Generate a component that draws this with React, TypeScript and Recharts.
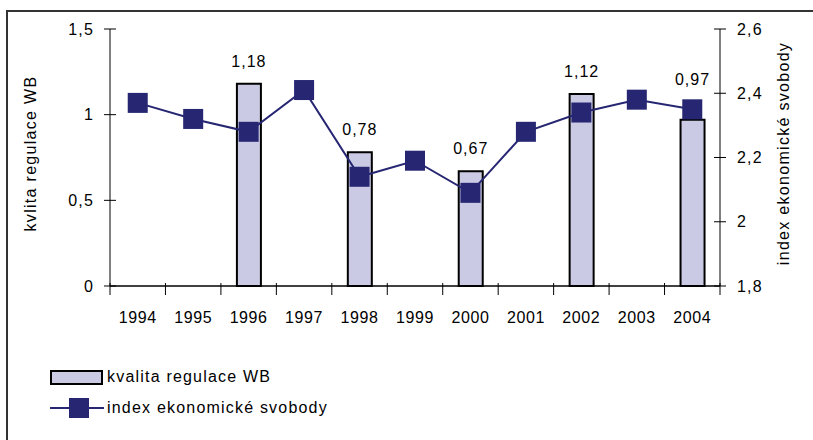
import React from 'react';
import { ComposedChart, Bar, Line, XAxis, YAxis, LabelList } from 'recharts';

const years = ['1994', '1995', '1996', '1997', '1998', '1999', '2000', '2001', '2002', '2003', '2004'];
// kvalita regulace WB (left axis), only some years
const regulace = [null, null, 1.18, null, 0.78, null, 0.67, null, 1.12, null, 0.97];
// index ekonomické svobody (right axis)
const svoboda = [2.37, 2.32, 2.28, 2.41, 2.14, 2.19, 2.09, 2.28, 2.34, 2.38, 2.35];
const leftTicks = [0, 0.5, 1, 1.5];
const rightTicks = [1.8, 2, 2.2, 2.4, 2.6];

const data = years.map((year, i) => ({ year, regulace: regulace[i], svoboda: svoboda[i] }));

const FONT = '"Liberation Sans", Arial, sans-serif';
const NAVY = '#262672';
const BAR_FILL = '#CBCAE4';
const PLOT_W = 610;
const fmt = (v: number) => String(v).replace('.', ',');

const XTick = (props: any) => {
    const { x, y, payload, index } = props;
    const band = PLOT_W / years.length;
    return (
        <g>
            <line x1={x - band / 2} x2={x - band / 2} y1={y - 5} y2={y + 7} stroke="#000" />
            {index === years.length - 1 && (
                <line x1={x + band / 2} x2={x + band / 2} y1={y - 5} y2={y + 7} stroke="#000" />
            )}
            <text x={x} y={y + 35} textAnchor="middle" fontSize={16} letterSpacing={0.6} fontFamily={FONT} fill="#000">
                {payload.value}
            </text>
        </g>
    );
};

const LeftTick = (props: any) => {
    const { x, y, payload } = props;
    return (
        <g>
            <line x1={x - 6} x2={x + 6} y1={y} y2={y} stroke="#000" />
            <text x={x - 16} y={y} dy="0.35em" textAnchor="end" fontSize={16} letterSpacing={1.2} fontFamily={FONT} fill="#000">
                {fmt(payload.value)}
            </text>
        </g>
    );
};

const RightTick = (props: any) => {
    const { x, y, payload } = props;
    return (
        <g>
            <line x1={x - 6} x2={x + 6} y1={y} y2={y} stroke="#000" />
            <text x={x + 17} y={y} dy="0.35em" textAnchor="start" fontSize={16} letterSpacing={1.2} fontFamily={FONT} fill="#000">
                {fmt(payload.value)}
            </text>
        </g>
    );
};

const Square = (props: any) => {
    const { cx, cy } = props;
    if (cx == null || cy == null) return null;
    return <rect x={cx - 10} y={cy - 10} width={20} height={20} fill={NAVY} />;
};

// value labels above bars; the last one (2004) is lifted clear of the line marker
const BarLabel = (props: any) => {
    const { x, y, width, value } = props;
    if (value == null) return null;
    const lift = regulace.indexOf(value) === years.length - 1 ? 35 : 17;
    return (
        <text x={x + width / 2} y={y - lift} textAnchor="middle" fontSize={16} letterSpacing={1}
            fontFamily={FONT} fill="#000">
            {fmt(value)}
        </text>
    );
};

const axisTitle = (text: string, dx: number) => (props: any) => {
    const vb = props.viewBox;
    const cx = vb.x + dx;
    const cy = vb.y + vb.height / 2 - 4;
    return (
        <text x={cx} y={cy} transform={`rotate(-90 ${cx} ${cy})`} textAnchor="middle" dominantBaseline="central"
            fontSize={16} letterSpacing={1.3} fontFamily={FONT} fill="#000">
            {text}
        </text>
    );
};

export default function App() {
    return (
        <div style={{ position: 'absolute', left: 0, top: 0, width: 813, height: 440, background: '#fff', overflow: 'hidden' }}>
            <div style={{ position: 'absolute', left: 6, top: 10, width: 820, height: 450, border: '2px solid #333' }} />
            <ComposedChart
                width={813}
                height={440}
                data={data}
                margin={{ top: 29, right: 13, left: 30, bottom: 114 }}
                style={{ position: 'absolute', left: 0, top: 0 }}
            >
                <XAxis dataKey="year" height={40} tickLine={false} tickSize={0} tick={<XTick />}
                    axisLine={{ stroke: '#000', strokeWidth: 1.5 }} interval={0} />
                <YAxis yAxisId="left" width={80} domain={[0, 1.5]} ticks={leftTicks} tickLine={false} tickSize={0}
                    tickMargin={0} tick={<LeftTick />} axisLine={{ stroke: '#000' }}
                    label={{ content: axisTitle('kvlita regulace WB', 0) }} />
                <YAxis yAxisId="right" orientation="right" width={80} domain={[1.8, 2.6]} ticks={rightTicks}
                    tickLine={false} tickSize={0} tickMargin={0} tick={<RightTick />} axisLine={{ stroke: '#000' }}
                    label={{ content: axisTitle('index ekonomické svobody', 63) }} />
                <Bar yAxisId="left" dataKey="regulace" barSize={24} fill={BAR_FILL} stroke="#000" strokeWidth={2}
                    isAnimationActive={false}>
                    <LabelList dataKey="regulace" content={<BarLabel />} />
                </Bar>
                <Line yAxisId="right" dataKey="svoboda" stroke={NAVY} strokeWidth={2} dot={<Square />}
                    activeDot={false} isAnimationActive={false} />
            </ComposedChart>
            <div style={{ position: 'absolute', left: 50, top: 369, fontFamily: FONT, fontSize: 16, letterSpacing: 1.2 }}>
                <div style={{ display: 'flex', alignItems: 'center', height: 16 }}>
                    <div style={{ width: 49, height: 11, background: BAR_FILL, border: '2px solid #000' }} />
                    <span style={{ marginLeft: 4 }}>kvalita regulace WB</span>
                </div>
                <div style={{ display: 'flex', alignItems: 'center', height: 20, marginTop: 13 }}>
                    <svg width={54} height={20}>
                        <line x1={0} x2={54} y1={10} y2={10} stroke={NAVY} strokeWidth={2} />
                        <rect x={19} y={0} width={20} height={20} fill={NAVY} />
                    </svg>
                    <span style={{ marginLeft: 3 }}>index ekonomické svobody</span>
                </div>
            </div>
        </div>
    );
}
